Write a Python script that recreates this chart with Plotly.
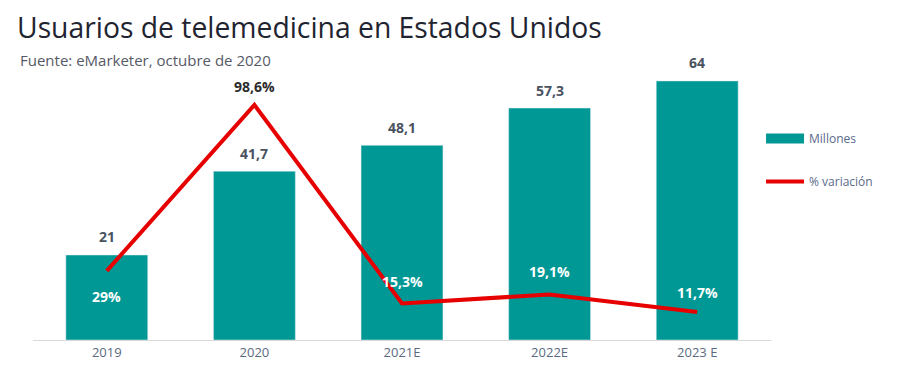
import plotly.graph_objects as go

categories = ["2019", "2020", "2021E", "2022E", "2023 E"]
usuarios = [21, 41.7, 48.1, 57.3, 64]
usuarios_labels = ["21", "41,7", "48,1", "57,3", "64"]
variacion = [29, 98.6, 15.3, 19.1, 11.7]
variacion_labels = ["29%", "98,6%", "15,3%", "19,1%", "11,7%"]

TEAL = "#009894"
RED = "#E60000"

pos = list(range(len(categories)))

fig = go.Figure()
fig.add_trace(go.Bar(x=pos, y=usuarios, name="Millones", marker_color=TEAL,
                     width=0.555, yaxis="y", showlegend=False))
# legend entry for bars drawn as a wide teal block
fig.add_trace(go.Scatter(x=[None], y=[None], name="Millones", mode="lines",
                         line=dict(color=TEAL, width=11), legendgroup="a", yaxis="y"))
fig.add_trace(go.Scatter(x=pos, y=variacion, name="% variación", mode="lines",
                         line=dict(color=RED, width=4), yaxis="y2", legendgroup="b"))

for p, v, t in zip(pos, usuarios, usuarios_labels):
    fig.add_annotation(x=p, y=v, xref="x", yref="y", text=f"<b>{t}</b>", showarrow=False,
                       yshift=18, font=dict(size=14, color="#4a5260", family="Open Sans"))
shifts = [-26, 18, 22, 23, 20]
colors = ["white", "#2b2b2b", "white", "white", "white"]
for p, v, t, s, col in zip(pos, variacion, variacion_labels, shifts, colors):
    fig.add_annotation(x=p, y=v, xref="x", yref="y2", text=f"<b>{t}</b>", showarrow=False,
                       yshift=s, font=dict(size=14, color=col, family="Open Sans"))

fig.update_layout(
    width=897, height=371,
    margin=dict(l=25, r=134, t=62, b=39),
    plot_bgcolor="white", paper_bgcolor="white",
    font=dict(family="Open Sans", color="#5a6478"),
    title=dict(text="Usuarios de telemedicina en Estados Unidos", x=9/897, xanchor="left",
               xref="container", y=1 - 20/371, yref="container", yanchor="middle",
               font=dict(size=28.3, color="#1f2430", family="Open Sans")),
    xaxis=dict(range=[-0.5, 4.5], tickvals=pos, ticktext=categories,
               showline=True, linecolor="#d9d9d9", linewidth=1, ticks="",
               tickfont=dict(size=13, color="#5a6a80"), showgrid=False, zeroline=False),
    yaxis=dict(range=[0, 66.7], visible=False, showgrid=False),
    yaxis2=dict(range=[0, 113.2], visible=False, overlaying="y", showgrid=False),
    showlegend=True,
    legend=dict(x=0.9865, y=0.80, xanchor="left", yanchor="top",
                font=dict(size=12, color="#5a6a8a"), tracegroupgap=24, itemwidth=38,
                bgcolor="rgba(0,0,0,0)"),
)
fig.add_annotation(x=-0.0208, y=1.037, xref="paper", yref="paper", xanchor="left", yanchor="middle",
                   text="Fuente: eMarketer, octubre de 2020", showarrow=False,
                   font=dict(size=15, color="#555a66", family="Open Sans"))
fig.write_html("out.html")
